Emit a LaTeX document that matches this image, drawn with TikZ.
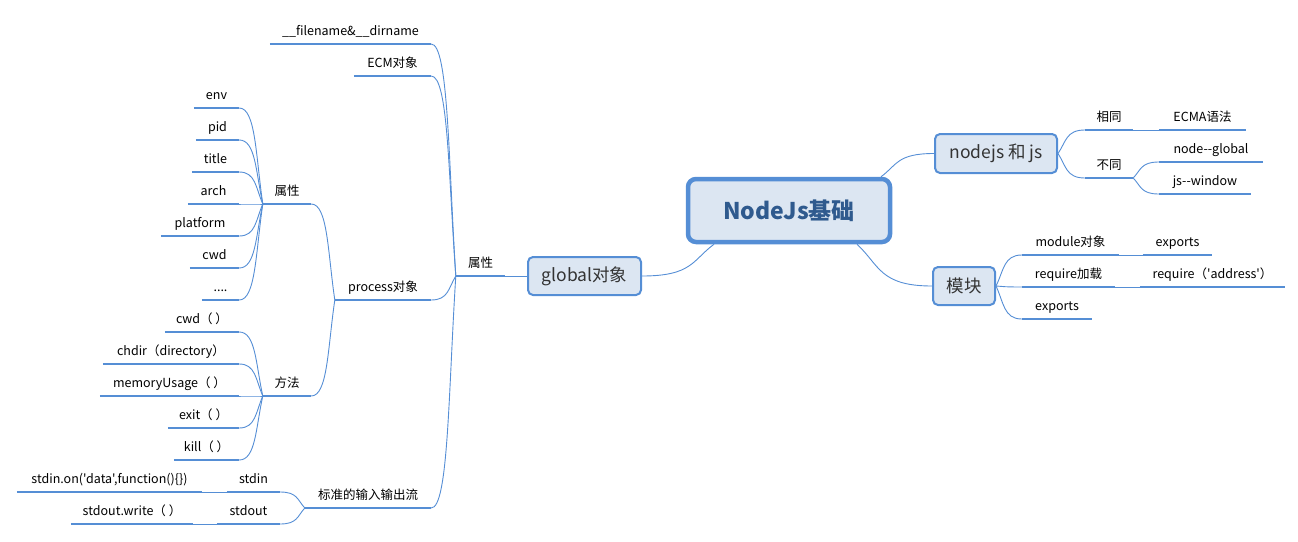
\documentclass[tikz,border=0pt]{standalone}
\usepackage{fontspec}
\setmainfont{Noto Sans CJK SC}[Ligatures=TeXOff]
\usetikzlibrary{calc}
\definecolor{ln}{HTML}{558ED5}
\definecolor{bxfill}{HTML}{DCE6F2}
\definecolor{ctext}{HTML}{2F5A8E}
\definecolor{btext}{HTML}{333333}
\newcommand\mylink[2]{\draw[link] let \p1=(#1), \p2=(#2) in (\p1) .. controls ({\x1+0.3*(\x2-\x1)},{0.5*(\y1+\y2)}) and ({\x1+0.3*(\x2-\x1)},\y2) .. (\p2);}
\begin{document}
\begin{tikzpicture}[x=1pt,y=-1pt,
  leaf/.style={inner xsep=0pt, inner ysep=5pt, text height=9.5pt, text depth=3pt, anchor=south, font=\fontsize{12.5}{15}\selectfont},
  uline/.style={draw=ln, line width=2.6pt},
  link/.style={draw=ln, line width=0.9pt},
  central/.style={draw=ln, fill=bxfill, line width=4.5pt, rounded corners=8pt, minimum width=202pt, minimum height=63pt, text=ctext, font=\fontsize{23}{27}\selectfont\bfseries},
  topic/.style={draw=ln, fill=bxfill, line width=2pt, rounded corners=5pt, text=btext, font=\fontsize{17.5}{21}\selectfont, inner sep=0pt}
]
\useasboundingbox (0,0) rectangle (1298,541);

% main boxes
\node[central] (central) at (789,210.5) {NodeJs基础};
\node[topic, minimum width=113pt, minimum height=38pt] (global) at (584.5,276) {global对象};
\node[topic, minimum width=122pt, minimum height=39pt] (nodejs) at (996,153.5) {nodejs 和 js};
\node[topic, minimum width=62pt, minimum height=38pt] (mod) at (964,286) {模块};

% left leaves
\node[leaf, minimum width=49pt] (L1) at (480.5,276) {属性};
\node[leaf, minimum width=161pt] (fn) at (350.5,44) {\_\_filename\&\_\_dirname};
\node[leaf, minimum width=77pt] (ecm) at (392.5,76) {ECM对象};
\node[leaf, minimum width=96pt] (proc) at (383,300) {process对象};
\node[leaf, minimum width=126pt] (std) at (368,508) {标准的输入输出流};
\node[leaf, minimum width=48pt] (attr) at (287,204) {属性};
\node[leaf, minimum width=48pt] (meth) at (287,396) {方法};
\node[leaf, minimum width=45pt] (env) at (216.5,108) {env};
\node[leaf, minimum width=43pt] (pid) at (217.5,140) {pid};
\node[leaf, minimum width=47pt] (title) at (215.5,172) {title};
\node[leaf, minimum width=51pt] (arch) at (213.5,204) {arch};
\node[leaf, minimum width=78pt] (platform) at (200,236) {platform};
\node[leaf, minimum width=49pt] (cwd) at (214.5,268) {cwd};
\node[leaf, minimum width=37pt] (dots) at (220.5,300) {....};
\node[leaf, minimum width=74pt] (cwdf) at (202,332) {cwd（ ）};
\node[leaf, minimum width=136pt] (chdir) at (171,364) {chdir（directory）};
\node[leaf, minimum width=139pt] (mem) at (169.5,396) {memoryUsage（ ）};
\node[leaf, minimum width=71pt] (exit) at (203.5,428) {exit（ ）};
\node[leaf, minimum width=65pt] (kill) at (206.5,460) {kill（ ）};
\node[leaf, minimum width=53pt] (stdin) at (253.5,492) {stdin};
\node[leaf, minimum width=63pt] (stdout) at (248.5,524) {stdout};
\node[leaf, minimum width=185pt] (stdinon) at (109.5,492) {stdin.on('data',function()\{\})};
\node[leaf, minimum width=122pt] (stdoutw) at (132,524) {stdout.write（ ）};

% right leaves
\node[leaf, minimum width=48pt] (same) at (1109,130) {相同};
\node[leaf, minimum width=87pt] (ecma) at (1202.5,130) {ECMA语法};
\node[leaf, minimum width=48pt] (diff) at (1109,178) {不同};
\node[leaf, minimum width=104pt] (nglobal) at (1211,162) {node--global};
\node[leaf, minimum width=92pt] (jswin) at (1205,194) {js--window};
\node[leaf, minimum width=97pt] (modobj) at (1070.5,255) {module对象};
\node[leaf, minimum width=69pt] (exp1) at (1177.5,255) {exports};
\node[leaf, minimum width=93pt] (req) at (1068.5,287) {require加载};
\node[leaf, minimum width=145pt] (reqaddr) at (1212.5,287) {require（'address'）};
\node[leaf, minimum width=70pt] (exp2) at (1057,319) {exports};

% underlines
\foreach \n in {L1,fn,ecm,proc,std,attr,meth,env,pid,title,arch,platform,cwd,dots,cwdf,chdir,mem,exit,kill,stdin,stdout,stdinon,stdoutw,same,ecma,diff,nglobal,jswin,modobj,exp1,req,reqaddr,exp2}
  \draw[uline] (\n.south west) -- (\n.south east);

% central connectors
\coordinate (cg) at ($(central.south)+(-75,0)$);
\coordinate (cn) at ($(central.north)+(92,0)$);
\coordinate (cm) at ($(central.south)+(68,0)$);
\mylink{cg}{global.east}
\mylink{cn}{nodejs.west}
\mylink{cm}{mod.west}

% straight connectors
\draw[link] (global.west) -- (L1.south east);
\draw[link] (same.south east) -- (ecma.south west);
\draw[link] (modobj.south east) -- (exp1.south west);
\draw[link] (req.south east) -- (reqaddr.south west);
\draw[link] (stdin.south west) -- (stdinon.south east);
\draw[link] (stdout.south west) -- (stdoutw.south east);

% curved connectors
\foreach \c in {fn,ecm,proc,std} {\mylink{L1.south west}{\c.south east}}
\foreach \c in {attr,meth} {\mylink{proc.south west}{\c.south east}}
\foreach \c in {env,pid,title,arch,platform,cwd,dots} {\mylink{attr.south west}{\c.south east}}
\foreach \c in {cwdf,chdir,mem,exit,kill} {\mylink{meth.south west}{\c.south east}}
\foreach \c in {stdin,stdout} {\mylink{std.south west}{\c.south east}}
\foreach \c in {same,diff} {\mylink{nodejs.east}{\c.south west}}
\foreach \c in {nglobal,jswin} {\mylink{diff.south east}{\c.south west}}
\foreach \c in {modobj,req,exp2} {\mylink{mod.east}{\c.south west}}
\end{tikzpicture}
\end{document}
